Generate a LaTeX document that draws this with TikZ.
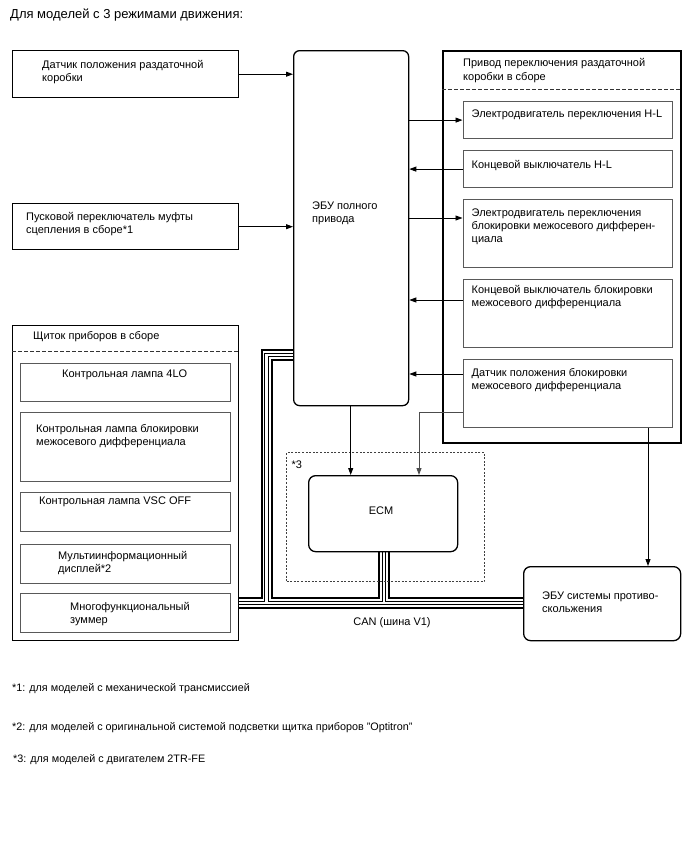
\documentclass[tikz,border=0pt]{standalone}
\usepackage{fontspec}
\setmainfont{Liberation Sans}
\usetikzlibrary{arrows.meta,backgrounds}
\begin{document}
\begin{tikzpicture}[x=1pt,y=-1pt,
  every node/.style={font=\fontsize{11}{13.3}\selectfont, inner sep=0pt},
  obox/.style={draw=black, line width=1.4pt, fill=white, anchor=north west, rectangle},
  gbox/.style={draw=black!65, line width=1.2pt, fill=white, anchor=north west, rectangle},
  rbox/.style={draw=black, line width=1.3pt, fill=white, anchor=north west, rectangle, rounded corners=6pt},
  txt/.style={anchor=north west, align=left, yshift=-3pt, execute at begin node=\strut},
  ltxt/.style={anchor=base west},
  arr/.style={draw=black, line width=0.9pt, -{Triangle[length=7pt,width=5pt]}},
  garr/.style={draw=black!70, line width=0.9pt, -{Triangle[length=7pt,width=5pt]}},
  dline/.style={draw=black!80, line width=0.8pt, dash pattern=on 3.5pt off 2.5pt},
  dotbox/.style={draw=black!75, line width=1pt, dash pattern=on 2pt off 1.6pt, anchor=north west, rectangle},
  note/.style={anchor=base west, font=\fontsize{10.8}{13}\selectfont}
]
\useasboundingbox (0,0) rectangle (688,852);

% title
\node[ltxt, font=\fontsize{13}{15}\selectfont] (title) at (10,18.3) {Для моделей с 3 режимами движения:};

% left column
\node[obox, minimum width=226pt, minimum height=47pt] (tsens) at (12,50) {};
\node[txt] (tsensT) at (42,57) {Датчик положения раздаточной\\коробки};
\node[obox, minimum width=226pt, minimum height=46pt] (clutch) at (12,203) {};
\node[txt] (clutchT) at (26,208.7) {Пусковой переключатель муфты\\сцепления в сборе*1};

\node[obox, minimum width=226pt, minimum height=315pt] (meter) at (12,325) {};
\node[ltxt] (meterT) at (33,339.7) {Щиток приборов в сборе};
\draw[dline] (meter.west |- 0,351) -- (meter.east |- 0,351);
\node[gbox, minimum width=210pt, minimum height=38pt] (l1) at (20,363) {};
\node[ltxt] (l1T) at (62,377.3) {Контрольная лампа 4LO};
\node[gbox, minimum width=210pt, minimum height=69pt] (l2) at (20,412) {};
\node[txt] (l2T) at (36,421) {Контрольная лампа блокировки\\межосевого дифференциала};
\node[gbox, minimum width=210pt, minimum height=39pt] (l3) at (20,492) {};
\node[ltxt] (l3T) at (39,504) {Контрольная лампа VSC OFF};
\node[gbox, minimum width=210pt, minimum height=39pt] (l4) at (20,544) {};
\node[txt] (l4T) at (58,548) {Мультиинформационный\\дисплей*2};
\node[gbox, minimum width=210pt, minimum height=39pt] (l5) at (20,593) {};
\node[txt] (l5T) at (70,598.7) {Многофункциональный\\зуммер};

% centre
\node[rbox, minimum width=115pt, minimum height=355pt] (ecu) at (293,50) {};
\node[txt] (ecuT) at (312,198.7) {ЭБУ полного\\привода};

\node[dotbox, minimum width=198pt, minimum height=129pt] (grp3) at (286,452) {};
\node[ltxt] (grp3T) at (291.5,468) {*3};
\node[rbox, minimum width=149pt, minimum height=76pt, rounded corners=7pt] (ecm) at (308,475) {};
\node (ecmT) at (381,511) {ECM};

% right column
\node[obox, minimum width=238pt, minimum height=392pt, line width=1.6pt] (act) at (442,50) {};
\node[txt] (actT) at (463,55.4) {Привод переключения раздаточной\\коробки в сборе};
\draw[dline] (act.west |- 0,89) -- (act.east |- 0,89);
\node[gbox, minimum width=209.5pt, minimum height=37pt] (r1) at (462.5,101) {};
\node[ltxt] (r1T) at (471.5,117) {Электродвигатель переключения H-L};
\node[gbox, minimum width=209.5pt, minimum height=37pt] (r2) at (462.5,150) {};
\node[ltxt] (r2T) at (471.5,168) {Концевой выключатель H-L};
\node[gbox, minimum width=209.5pt, minimum height=68pt] (r3) at (462.5,199) {};
\node[txt] (r3T) at (471.5,205.4) {Электродвигатель переключения\\блокировки межосевого дифферен-\\циала};
\node[gbox, minimum width=209.5pt, minimum height=68pt] (r4) at (462.5,279) {};
\node[txt] (r4T) at (471.5,282) {Концевой выключатель блокировки\\межосевого дифференциала};
\node[gbox, minimum width=209.5pt, minimum height=68pt] (r5) at (462.5,359) {};
\node[txt] (r5T) at (471.5,365.4) {Датчик положения блокировки\\межосевого дифференциала};

\node[rbox, minimum width=157pt, minimum height=74pt, rounded corners=7pt] (abs) at (523,566) {};
\node[txt] (absT) at (542,588.7) {ЭБУ системы противо-\\скольжения};

\node[anchor=base] (can) at (392,625) {CAN (шина V1)};

% arrows
\draw[arr] (tsens.east) -- (tsens.east -| ecu.west);
\draw[arr] (clutch.east) -- (clutch.east -| ecu.west);
\draw[arr] (r1.west -| ecu.east) -- (r1.west);
\draw[arr] (r2.west) -- (r2.west -| ecu.east);
\draw[arr] (ecu.east |- 0,218) -- (r3.west |- 0,218);
\draw[arr] (r4.west |- 0,300) -- (ecu.east |- 0,300);
\draw[arr] (r5.west |- 0,374) -- (ecu.east |- 0,374);
\coordinate (k1) at (419,412);
\draw[garr] (r5.west |- k1) -- (k1) -- (k1 |- ecm.north);
\draw[arr] (ecu.south -| 350.7,0) -- (ecm.north -| 350.7,0);
\draw[arr] (r5.south -| 648,0) -- (abs.north -| 648,0);

% CAN bus
\begin{pgfonlayer}{background}
\coordinate (bj) at (266.5,603);
\foreach \w/\c in {12/black, 8/white, 4.6/black, 2.6/white}{
  \draw[line width=\w pt, color=\c] (ecu.west |- 0,355) -- (bj |- 0,355) -- (bj) -- (meter.east |- bj);
  \draw[line width=\w pt, color=\c] (bj) -- (abs.west |- bj);
  \draw[line width=\w pt, color=\c] ([xshift=1pt]ecm.south) -- ([xshift=1pt]ecm.south |- bj);
}
\end{pgfonlayer}

% footnotes
\node[note] (n1) at (12,691) {*1: для моделей с механической трансмиссией};
\node[note] (n2) at (12,730) {*2: для моделей с оригинальной системой подсветки щитка приборов "Optitron"};
\node[note] (n3) at (13,762) {*3: для моделей с двигателем 2TR-FE};
\end{tikzpicture}
\end{document}
